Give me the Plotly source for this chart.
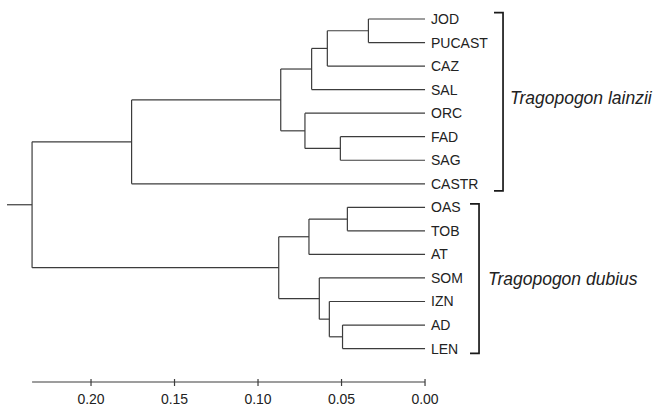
import plotly.graph_objects as go

# ---- data ----
LEAVES = ["JOD", "PUCAST", "CAZ", "SAL", "ORC", "FAD", "SAG", "CASTR",
          "OAS", "TOB", "AT", "SOM", "IZN", "AD", "LEN"]
MERGE_NAME = ["n1", "n2", "n3", "n4", "n5", "n6", "n7",
              "n8", "n9", "n10", "n11", "n12", "n13", "root"]
MERGE_LEFT = ["JOD", "n1", "n2", "FAD", "ORC", "n3", "n6",
              "OAS", "n8", "AD", "IZN", "SOM", "n9", "n7"]
MERGE_RIGHT = ["PUCAST", "CAZ", "SAL", "SAG", "n4", "n5", "CASTR",
               "TOB", "AT", "LEN", "n10", "n11", "n12", "n13"]
MERGE_HEIGHT = [0.0339, 0.0585, 0.0679, 0.0507, 0.0719, 0.0864, 0.1757,
                0.0465, 0.0695, 0.0494, 0.0573, 0.0633, 0.0876, 0.2353]
GROUP_NAMES = ["Tragopogon lainzii", "Tragopogon dubius"]
GROUP_FIRST = ["JOD", "OAS"]
GROUP_LAST = ["CASTR", "LEN"]
TICK_VALUES = [0.20, 0.15, 0.10, 0.05, 0.00]
TICK_TEXT = ["0.20", "0.15", "0.10", "0.05", "0.00"]

FONT = "Liberation Sans, Arial, Helvetica, sans-serif"
LINE_COLOR = "#3c3c3c"

# ---- build dendrogram geometry ----
pos = {name: (0.0, float(i)) for i, name in enumerate(LEAVES)}
xs, ys = [], []
for name, a, b, h in zip(MERGE_NAME, MERGE_LEFT, MERGE_RIGHT, MERGE_HEIGHT):
    ha, ya = pos[a]
    hb, yb = pos[b]
    # horizontal branches
    xs += [ha, h, None, hb, h, None]
    ys += [ya, ya, None, yb, yb, None]
    # vertical connector
    xs += [h, h, None]
    ys += [ya, yb, None]
    pos[name] = (h, (ya + yb) / 2)

root_h, root_y = pos["root"]
STUB = 0.015
xs += [root_h, root_h + STUB, None]
ys += [root_y, root_y, None]

fig = go.Figure()
fig.add_trace(go.Scatter(x=xs, y=ys, mode="lines",
                         line=dict(color=LINE_COLOR, width=1.2),
                         hoverinfo="skip", showlegend=False))

# leaf labels
for i, name in enumerate(LEAVES):
    fig.add_annotation(x=0, y=i, text=name, showarrow=False,
                       xanchor="left", yanchor="middle", xshift=4,
                       font=dict(family=FONT, size=14, color="#222"))

# group brackets and labels
BRACKET_X = [78, 54]
TEXT_SHIFT = [83, 61]
EXT_TOP = [0.27, 0.15]
EXT_BOT = [0.3, 0.2]
Y_SHIFT = [4, 0]
for g, name in enumerate(GROUP_NAMES):
    y0 = LEAVES.index(GROUP_FIRST[g]) - EXT_TOP[g]
    y1 = LEAVES.index(GROUP_LAST[g]) + EXT_BOT[g]
    bx = BRACKET_X[g]
    fig.add_shape(type="path", xref="x", yref="y", xsizemode="pixel", xanchor=0,
                  path=f"M {bx-9},{y0} L {bx},{y0} L {bx},{y1} L {bx-9},{y1}",
                  line=dict(color="#1a1a1a", width=1.7))
    fig.add_annotation(x=0, y=(y0 + y1) / 2, text=f"<i>{name}</i>", showarrow=False,
                       xanchor="left", yanchor="middle", xshift=TEXT_SHIFT[g],
                       yshift=Y_SHIFT[g],
                       font=dict(family=FONT, size=17.5, color="#222"))

# scale axis line and crossing tick marks
fig.add_shape(type="line", xref="x", yref="paper", x0=root_h, x1=0, y0=0, y1=0,
              line=dict(color="#3c3c3c", width=1.2))
for t in TICK_VALUES:
    fig.add_shape(type="line", xref="x", yref="paper", ysizemode="pixel", yanchor=0,
                  x0=t, x1=t, y0=-4, y1=3, line=dict(color="#3c3c3c", width=1.2))

fig.update_layout(
    width=657, height=406,
    margin=dict(l=0, r=0, t=0, b=24),
    paper_bgcolor="white", plot_bgcolor="white",
    font=dict(family=FONT, color="#222"),
    xaxis=dict(range=[0.2545, -0.1389], tickvals=TICK_VALUES, ticktext=TICK_TEXT,
               showgrid=False, zeroline=False, showline=False,
               ticks="outside", ticklen=4, tickcolor="rgba(0,0,0,0)",
               tickfont=dict(family=FONT, size=14, color="#222")),
    yaxis=dict(range=[15.42, -0.807], visible=False, showgrid=False, zeroline=False),
)

fig.write_html("out.html", config={"displayModeBar": False},
               post_script="document.body.style.margin='0';document.body.style.overflow='hidden';")
